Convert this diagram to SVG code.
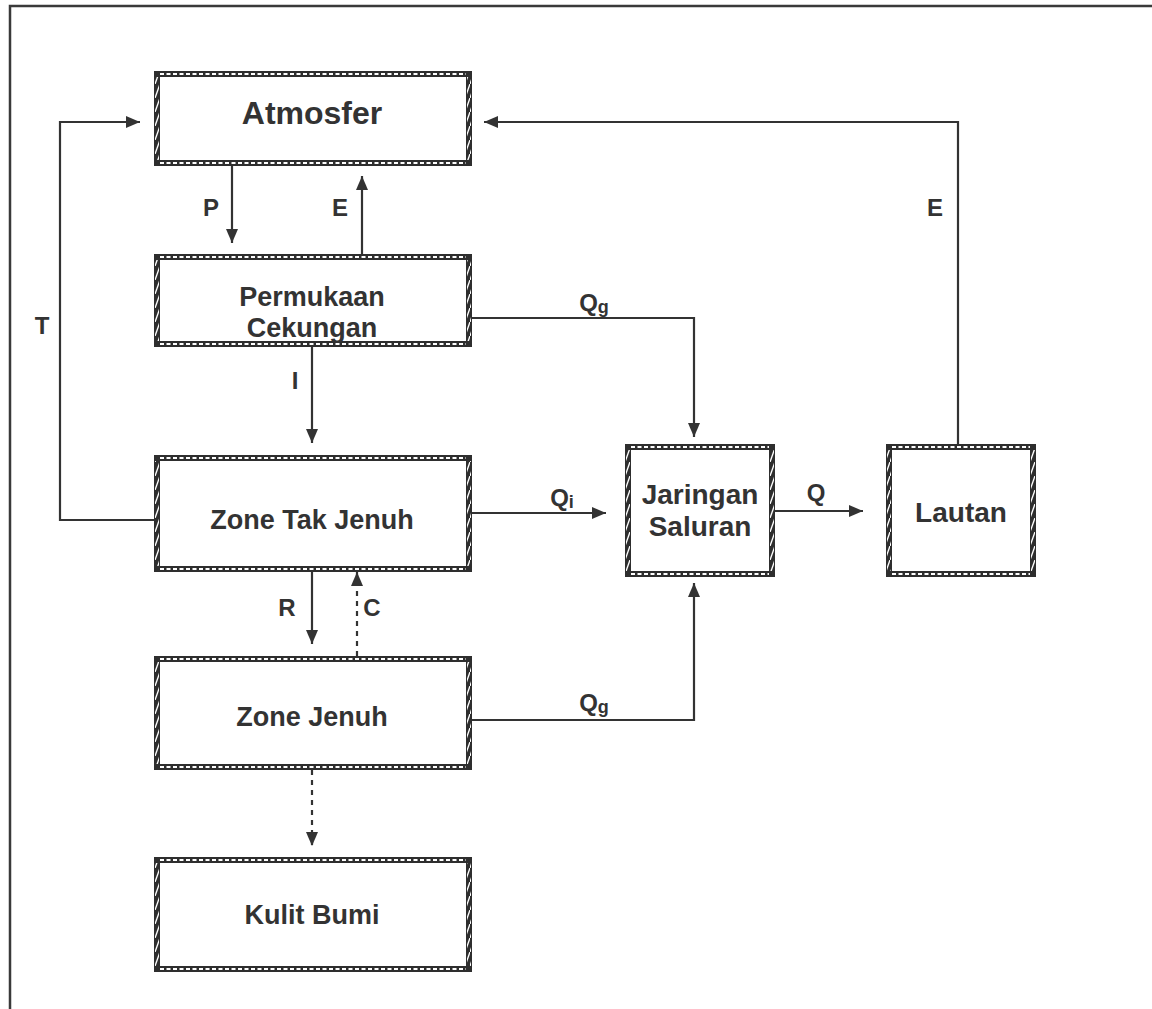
<svg xmlns="http://www.w3.org/2000/svg" width="1152" height="1009" viewBox="0 0 1152 1009">
<style>
.frm{fill:#2e2e2e}
.inn{fill:#fff}
.hd{stroke:#fff;stroke-width:2;stroke-dasharray:4 2.5;fill:none}
.sd{fill:url(#dg)}
.ln{stroke:#333;stroke-width:2.2;fill:none}
.dot{stroke-dasharray:5 5}
.nt{font-family:"Liberation Sans",Arial,sans-serif;font-weight:bold;font-size:27px;fill:#333;text-anchor:middle}
.et{font-family:"Liberation Sans",Arial,sans-serif;font-weight:bold;font-size:24px;fill:#333;text-anchor:middle}
.sub{font-size:18px}
</style>
<defs>
<pattern id="dg" patternUnits="userSpaceOnUse" width="5" height="14">
<rect width="5" height="14" fill="#2e2e2e"/>
<path d="M0,14 L5,0" stroke="#fff" stroke-width="1.4"/>
</pattern>
<marker id="ar" markerUnits="userSpaceOnUse" markerWidth="14" markerHeight="12" refX="14" refY="6" orient="auto">
<path d="M0,0 L14,6 L0,12 z" fill="#333"/>
</marker>
</defs>
<rect width="1152" height="1009" fill="#fff"/>
<path d="M10,1009 V6 H1152" fill="none" stroke="#3a3a3a" stroke-width="2.5"/>

<g id="atmosfer">
<rect class="frm" x="154" y="71" width="318" height="95"/>
<rect class="inn" x="160" y="77" width="306" height="83"/>
<line class="hd" x1="160" y1="74" x2="466" y2="74"/>
<line class="hd" x1="160" y1="163" x2="466" y2="163"/>
<rect class="sd" x="155" y="77" width="4" height="83"/>
<rect class="sd" x="467" y="77" width="4" height="83"/>
<text class="nt" x="312" y="124" style="font-size:32px">Atmosfer</text>
</g>

<g id="permukaan">
<rect class="frm" x="154" y="254" width="318" height="93"/>
<rect class="inn" x="160" y="260" width="306" height="81"/>
<line class="hd" x1="160" y1="257" x2="466" y2="257"/>
<line class="hd" x1="160" y1="344" x2="466" y2="344"/>
<rect class="sd" x="155" y="260" width="4" height="81"/>
<rect class="sd" x="467" y="260" width="4" height="81"/>
<text class="nt" x="312" y="306">Permukaan</text>
<text class="nt" x="312" y="337">Cekungan</text>
</g>

<g id="zone-tak-jenuh">
<rect class="frm" x="154" y="455" width="318" height="117"/>
<rect class="inn" x="160" y="461" width="306" height="105"/>
<line class="hd" x1="160" y1="458" x2="466" y2="458"/>
<line class="hd" x1="160" y1="569" x2="466" y2="569"/>
<rect class="sd" x="155" y="461" width="4" height="105"/>
<rect class="sd" x="467" y="461" width="4" height="105"/>
<text class="nt" x="312" y="529">Zone Tak Jenuh</text>
</g>

<g id="zone-jenuh">
<rect class="frm" x="154" y="656" width="318" height="114"/>
<rect class="inn" x="160" y="662" width="306" height="102"/>
<line class="hd" x1="160" y1="659" x2="466" y2="659"/>
<line class="hd" x1="160" y1="767" x2="466" y2="767"/>
<rect class="sd" x="155" y="662" width="4" height="102"/>
<rect class="sd" x="467" y="662" width="4" height="102"/>
<text class="nt" x="312" y="726">Zone Jenuh</text>
</g>

<g id="kulit-bumi">
<rect class="frm" x="154" y="857" width="318" height="115"/>
<rect class="inn" x="160" y="863" width="306" height="103"/>
<line class="hd" x1="160" y1="860" x2="466" y2="860"/>
<line class="hd" x1="160" y1="969" x2="466" y2="969"/>
<rect class="sd" x="155" y="863" width="4" height="103"/>
<rect class="sd" x="467" y="863" width="4" height="103"/>
<text class="nt" x="312" y="924">Kulit Bumi</text>
</g>

<g id="jaringan-saluran">
<rect class="frm" x="625" y="444" width="150" height="133"/>
<rect class="inn" x="631" y="450" width="138" height="121"/>
<line class="hd" x1="631" y1="447" x2="769" y2="447"/>
<line class="hd" x1="631" y1="574" x2="769" y2="574"/>
<rect class="sd" x="626" y="450" width="4" height="121"/>
<rect class="sd" x="770" y="450" width="4" height="121"/>
<text class="nt" x="700" y="504" style="font-size:28px">Jaringan</text>
<text class="nt" x="700" y="536" style="font-size:28px">Saluran</text>
</g>

<g id="lautan">
<rect class="frm" x="886" y="444" width="150" height="133"/>
<rect class="inn" x="892" y="450" width="138" height="121"/>
<line class="hd" x1="892" y1="447" x2="1030" y2="447"/>
<line class="hd" x1="892" y1="574" x2="1030" y2="574"/>
<rect class="sd" x="887" y="450" width="4" height="121"/>
<rect class="sd" x="1031" y="450" width="4" height="121"/>
<text class="nt" x="961" y="522" style="font-size:28px">Lautan</text>
</g>

<g id="connectors">
<path class="ln" d="M232,166 V243" marker-end="url(#ar)"/>
<path class="ln" d="M362,254 V176" marker-end="url(#ar)"/>
<path class="ln" d="M154,520 H60 V122 H140" marker-end="url(#ar)"/>
<path class="ln" d="M472,318 H694 V437" marker-end="url(#ar)"/>
<path class="ln" d="M312,347 V443" marker-end="url(#ar)"/>
<path class="ln" d="M472,513 H606" marker-end="url(#ar)"/>
<path class="ln" d="M775,511 H863" marker-end="url(#ar)"/>
<path class="ln" d="M958,444 V122 H484" marker-end="url(#ar)"/>
<path class="ln" d="M312,572 V644" marker-end="url(#ar)"/>
<path class="ln dot" d="M357,656 V572" marker-end="url(#ar)"/>
<path class="ln" d="M472,720 H694 V583" marker-end="url(#ar)"/>
<path class="ln dot" d="M312,770 V846" marker-end="url(#ar)"/>
<text class="et" x="211" y="216">P</text>
<text class="et" x="340" y="216">E</text>
<text class="et" x="42" y="334">T</text>
<text class="et" x="295" y="389">I</text>
<text class="et" x="287" y="616">R</text>
<text class="et" x="372" y="616">C</text>
<text class="et" x="935" y="216">E</text>
<text class="et" x="816" y="501">Q</text>
<text class="et" x="594" y="311">Q<tspan class="sub" dy="2">g</tspan></text>
<text class="et" x="562" y="506">Q<tspan class="sub" dy="2">i</tspan></text>
<text class="et" x="594" y="711">Q<tspan class="sub" dy="2">g</tspan></text>
</g>
</svg>
